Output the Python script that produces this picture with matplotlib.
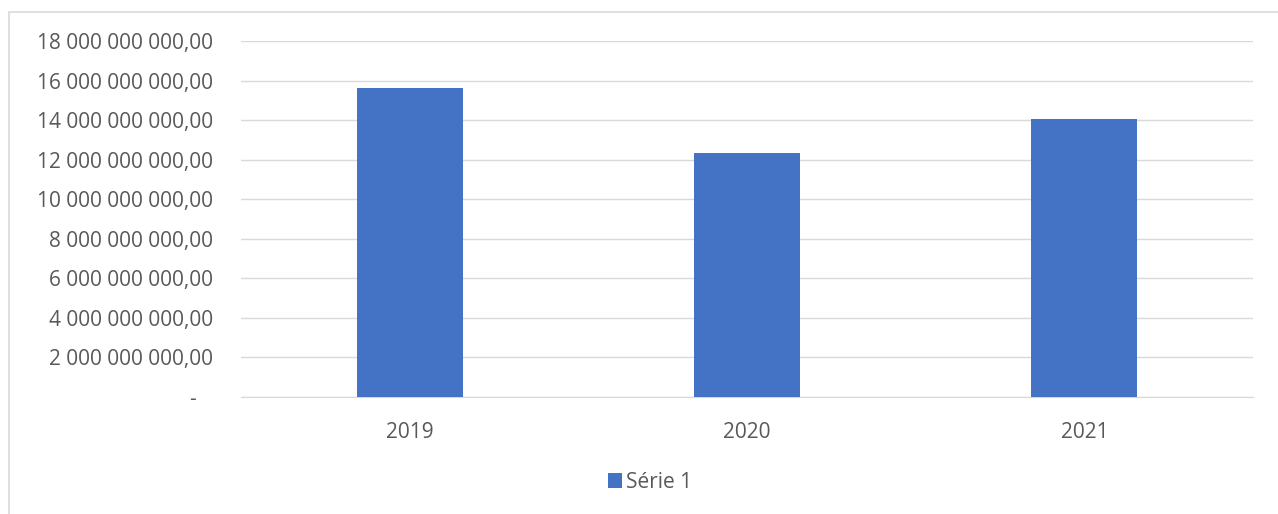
import matplotlib

matplotlib.use("Agg")
from matplotlib import pyplot as plt
from matplotlib.patches import Rectangle
from matplotlib.ticker import FuncFormatter, MultipleLocator

years = ["2019", "2020", "2021"]
values = [15.63e9, 12.34e9, 14.08e9]
series_name = "Série 1"

BAR_COLOR = "#4472c4"
GRID_COLOR = "#d9d9d9"
TEXT_COLOR = "#595959"

plt.rcParams["font.family"] = ["Open Sans", "DejaVu Sans"]


def money(value, _pos):
    if value == 0:
        return "-   "
    return f"{value:,.2f}".replace(",", " ").replace(".", ",")


fig = plt.figure(figsize=(12.78, 5.14), dpi=100)
fig.patches.append(
    Rectangle((9 / 1278, -0.1), 1.2, 1 - 12 / 514 + 0.1, transform=fig.transFigure,
              fill=False, edgecolor=GRID_COLOR, linewidth=1.2)
)
ax = fig.add_axes([241 / 1278, 1 - 397 / 514, 1012 / 1278, 356 / 514])

positions = range(len(years))
ax.bar(positions, values, width=0.314, color=BAR_COLOR, label=series_name, zorder=3)

ax.set_xlim(-0.5, len(years) - 0.5)
ax.set_ylim(0, 18e9)
ax.yaxis.set_major_locator(MultipleLocator(2e9))
ax.yaxis.set_major_formatter(FuncFormatter(money))
ax.set_xticks(list(positions), years)
ax.grid(axis="y", color=GRID_COLOR, linewidth=1, zorder=0)
ax.tick_params(length=0, labelsize=15, labelcolor=TEXT_COLOR)
ax.tick_params(axis="y", pad=20)
ax.tick_params(axis="x", pad=18)
for side in ["top", "right", "left"]:
    ax.spines[side].set_visible(False)
ax.spines["bottom"].set_color(GRID_COLOR)

fig.legend(*ax.get_legend_handles_labels(), loc="center", bbox_to_anchor=(650 / 1278, 1 - 482 / 514),
           frameon=False, handlelength=0.7, handleheight=0.7, handletextpad=0.2,
           fontsize=15, labelcolor=TEXT_COLOR)

fig.savefig("out.png")
plt.close(fig)
